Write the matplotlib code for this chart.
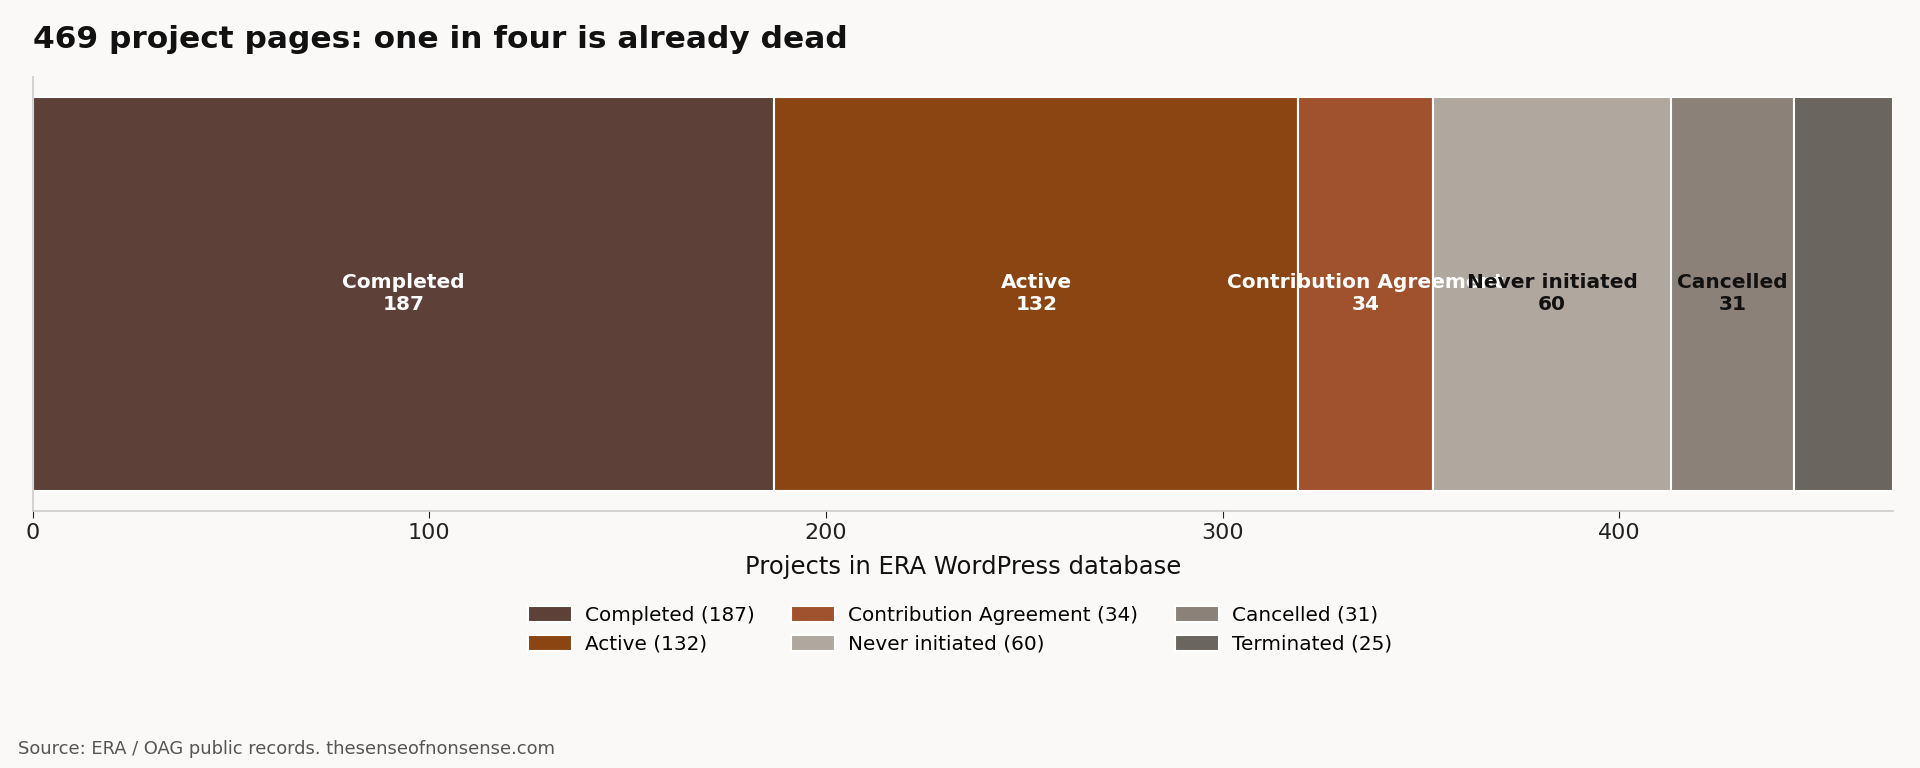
import matplotlib
matplotlib.use("Agg")
import matplotlib.pyplot as plt

# data
categories = ["Completed", "Active", "Contribution Agreement",
              "Never initiated", "Cancelled", "Terminated"]
counts = [187, 132, 34, 60, 31, 25]
colors = ["#5D4037", "#8B4513", "#A0522D", "#B0A79E", "#8B8178", "#6B655F"]
text_colors = ["white", "white", "white", "#111111", "#111111", "#111111"]

BG = "#FAF9F7"
total = sum(counts)

fig = plt.figure(figsize=(19.2, 7.68), dpi=100, facecolor=BG)
ax = fig.add_axes([0.017, 0.335, 0.969, 0.565], facecolor=BG)

left = 0
for name, n, col, tcol in zip(categories, counts, colors, text_colors):
    ax.barh(0, n, left=left, height=0.8, color=col, edgecolor="white",
            linewidth=1.5, label=f"{name} ({n})")
    # segments too narrow get no inline label
    if n >= 30:
        ax.text(left + n / 2, 0, f"{name}\n{n}", ha="center", va="center",
                color=tcol, fontsize=14.5, fontweight="bold")
    left += n

ax.set_xlim(0, total)
ax.set_yticks([])
for side in ("top", "right"):
    ax.spines[side].set_visible(False)
for side in ("left", "bottom"):
    ax.spines[side].set_color("#CCCCCC")
    ax.spines[side].set_linewidth(1.2)
ax.tick_params(axis="x", labelsize=16, colors="#222222")
ax.tick_params(axis="x", color="#222222", length=5)
ax.set_xlabel("Projects in ERA WordPress database", fontsize=17.5,
              color="#111111", labelpad=9)

fig.text(0.017, 0.948, "469 project pages: one in four is already dead",
         fontsize=22.5, fontweight="bold", color="#111111", va="center", ha="left")

fig.legend(loc="center", bbox_to_anchor=(0.5, 0.18), ncol=3, frameon=False,
           fontsize=14.4, handlelength=2.2, handleheight=0.9,
           handletextpad=0.65, columnspacing=1.85)

fig.text(0.0095, 0.025, "Source: ERA / OAG public records. thesenseofnonsense.com",
         fontsize=12.85, color="#555555", ha="left", va="center")

fig.savefig("out.png", dpi=100, facecolor=BG)
